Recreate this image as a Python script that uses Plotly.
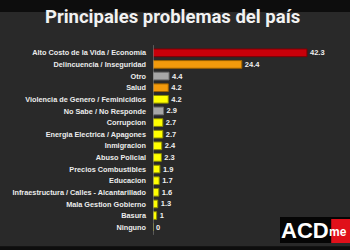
import plotly.graph_objects as go

categories = [
    "Alto Costo de la Vida / Economía",
    "Delincuencia / Inseguridad",
    "Otro",
    "Salud",
    "Violencia de Genero / Feminicidios",
    "No Sabe / No Responde",
    "Corrupcion",
    "Energia Electrica / Apagones",
    "Inmigracion",
    "Abuso Policial",
    "Precios Combustibles",
    "Educacion",
    "Infraestructura / Calles - Alcantarillado",
    "Mala Gestion Gobierno",
    "Basura",
    "Ninguno",
]
values = [42.3, 24.4, 4.4, 4.2, 4.2, 2.9, 2.7, 2.7, 2.4, 2.3, 1.9, 1.7, 1.6, 1.3, 1, 0]
value_labels = ["42.3", "24.4", "4.4", "4.2", "4.2", "2.9", "2.7", "2.7", "2.4", "2.3", "1.9", "1.7", "1.6", "1.3", "1", "0"]

RED, ORANGE, GREY, YELLOW = "#C8000A", "#F29A0C", "#A6A6A6", "#FFFF00"
bar_colors = [RED, ORANGE, GREY, ORANGE, YELLOW, GREY] + [YELLOW] * 10
line_colors = ["#7a0006", "#9a6000", "#6e6e6e", "#9a6000", "#8a8a00", "#6e6e6e"] + ["#8a8a00"] * 10

fig = go.Figure(go.Bar(
    x=values, y=categories, orientation="h",
    marker=dict(color=bar_colors, line=dict(color=line_colors, width=1)),
    text=value_labels, textposition="outside", cliponaxis=False, constraintext="none",
    textfont=dict(family="Liberation Sans", size=7.5, color="#f0f0f0", weight="bold"),
    width=0.66,
))

fig.update_layout(
    width=350, height=250,
    margin=dict(l=143, r=15, t=47, b=17),
    paper_bgcolor="#292929", plot_bgcolor="#292929",
    showlegend=False,
    xaxis=dict(range=[0, 50], visible=False, fixedrange=True),
    yaxis=dict(autorange="reversed", showgrid=False, zeroline=False,
               showline=False, ticks="", ticklabelstandoff=6,
               tickfont=dict(family="Liberation Sans", size=7.3, color="#ececec", weight="bold")),
    shapes=[
        # top and bottom black bands
        dict(type="rect", xref="paper", yref="paper", x0=-1, x1=1.2, y0=1.188, y1=1.3,
             fillcolor="#0d0d0d", line_width=0, layer="below"),
        dict(type="rect", xref="paper", yref="paper", x0=-1, x1=1.2, y0=-0.3, y1=-0.071,
             fillcolor="#0d0d0d", line_width=0, layer="below"),
        # axis line
        dict(type="line", xref="x", yref="paper", x0=0, x1=0, y0=-0.01, y1=1.01,
             line=dict(color="#8c8c8c", width=1)),
        # logo boxes
        dict(type="rect", xref="paper", yref="paper", x0=(277-143)/192, x1=(352-143)/192,
             y0=(250-17-243)/186, y1=(250-17-217)/186, fillcolor="#050505", line_width=0),
        dict(type="rect", xref="paper", yref="paper", x0=(331-143)/192, x1=(352-143)/192,
             y0=(250-17-243)/186, y1=(250-17-219)/186, fillcolor="#E0101A", line_width=0),
    ],
    annotations=[
        dict(text="Principales problemas del país", xref="paper", yref="paper",
             x=(163.5-143)/192, y=(250-17-17)/186, xanchor="center", yanchor="middle",
             showarrow=False, font=dict(family="Roboto", size=18.5, color="#f2f2f2", weight="bold")),
        dict(text="ACD", xref="paper", yref="paper",
             x=(303.5-143)/192, y=(250-17-230.5)/186, xanchor="center", yanchor="middle",
             borderpad=0, showarrow=False,
             font=dict(family="Liberation Sans", size=22, color="#ffffff", weight="bold")),
        dict(text="me", xref="paper", yref="paper",
             x=(349-143)/192, y=(250-17-232)/186, xanchor="right", yanchor="middle",
             borderpad=0, showarrow=False,
             font=dict(family="Liberation Sans", size=12, color="#ffffff", weight="bold")),
    ],
)

fig.write_html("out.html")
